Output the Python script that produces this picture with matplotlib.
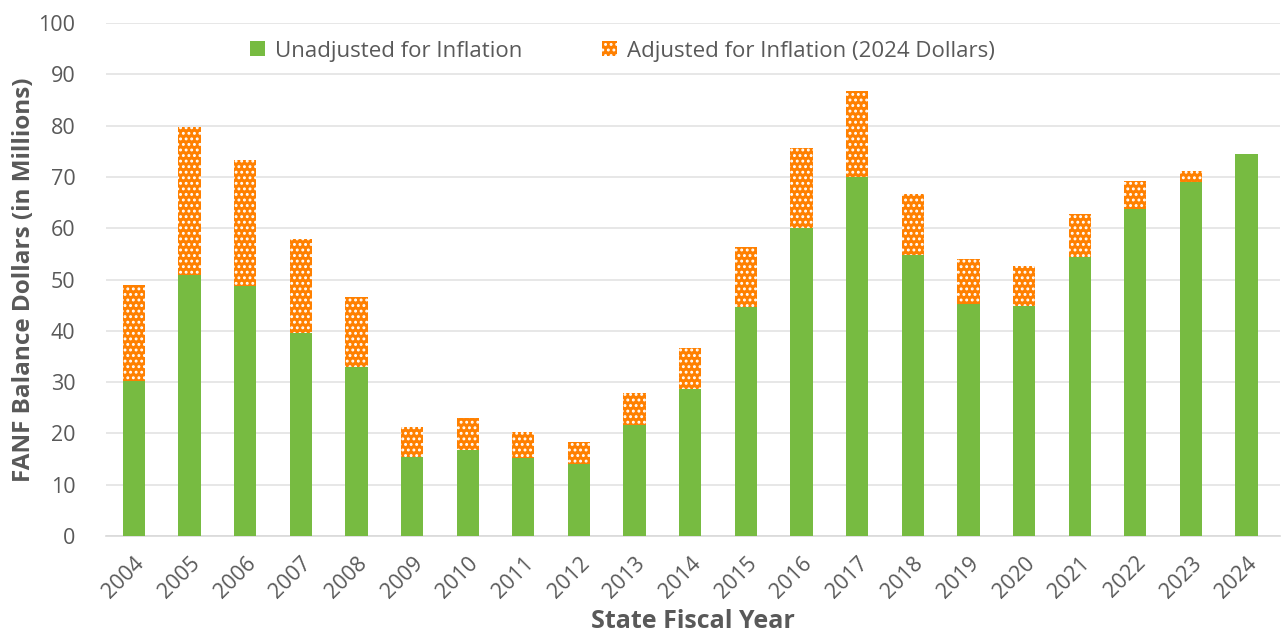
import matplotlib
matplotlib.use("Agg")
import matplotlib.pyplot as plt
import numpy as np

years = ["2004", "2005", "2006", "2007", "2008", "2009", "2010", "2011", "2012", "2013",
         "2014", "2015", "2016", "2017", "2018", "2019", "2020", "2021", "2022", "2023", "2024"]
unadjusted = [30.2, 50.9, 48.7, 39.6, 32.9, 15.4, 16.8, 15.2, 14.0, 21.6,
              28.7, 44.6, 60.0, 70.0, 54.8, 45.2, 44.8, 54.4, 63.7, 69.0, 74.5]
adjusted = [48.9, 79.7, 73.3, 57.9, 46.6, 21.2, 23.0, 20.3, 18.3, 27.9,
            36.6, 56.3, 75.6, 86.7, 66.7, 54.0, 52.6, 62.8, 69.2, 71.2, 74.5]

plt.rcParams['font.family'] = ['Open Sans', 'DejaVu Sans']
plt.rcParams['hatch.color'] = 'white'
plt.rcParams['hatch.linewidth'] = 1.3

text_color = '#595959'
green = '#77bb41'
orange = '#ff8000'

fig = plt.figure(figsize=(12.86, 6.33), dpi=100)
ax = fig.add_axes([106/1286, 1-536/633, (1280-106)/1286, (536-23)/633])

x = np.arange(len(years))
w = 0.4
ax.bar(x, adjusted, width=w, color=orange, hatch='...', edgecolor='white', linewidth=0,
       label='Adjusted for Inflation (2024 Dollars)', zorder=2)
ax.bar(x, unadjusted, width=w, color=green, linewidth=0,
       label='Unadjusted for Inflation', zorder=3)

ax.set_ylim(0, 100)
ax.set_xlim(-0.5, len(years) - 0.4)
ax.set_yticks(range(0, 101, 10))
ax.set_xticks(x)
ax.set_xticklabels(years, rotation=45, ha='right', rotation_mode='anchor')
ax.tick_params(axis='both', length=0, labelsize=15.5, colors=text_color)
ax.tick_params(axis='y', pad=22)
ax.tick_params(axis='x', pad=12)
ax.yaxis.grid(True, color='#e3e3e3', linewidth=1.2, zorder=0)
ax.set_axisbelow(True)
for s in ['top', 'right', 'left']:
    ax.spines[s].set_visible(False)
ax.spines['bottom'].set_color('#d9d9d9')
ax.spines['bottom'].set_linewidth(1.2)

ax.set_ylabel('FANF Balance Dollars (in Millions)', fontsize=17.5, fontweight='bold',
              color=text_color, labelpad=2)
ax.set_xlabel('State Fiscal Year', fontsize=18, fontweight='bold', color=text_color, labelpad=5)

handles, labels = ax.get_legend_handles_labels()
leg = ax.legend([handles[1], handles[0]], [labels[1], labels[0]], loc='center',
                bbox_to_anchor=(0.44, 0.945), ncol=2, frameon=False, fontsize=16,
                handlelength=0.65, handleheight=0.65, columnspacing=3.6, handletextpad=0.45)
for t in leg.get_texts():
    t.set_color(text_color)

fig.savefig('out.png', dpi=100)
